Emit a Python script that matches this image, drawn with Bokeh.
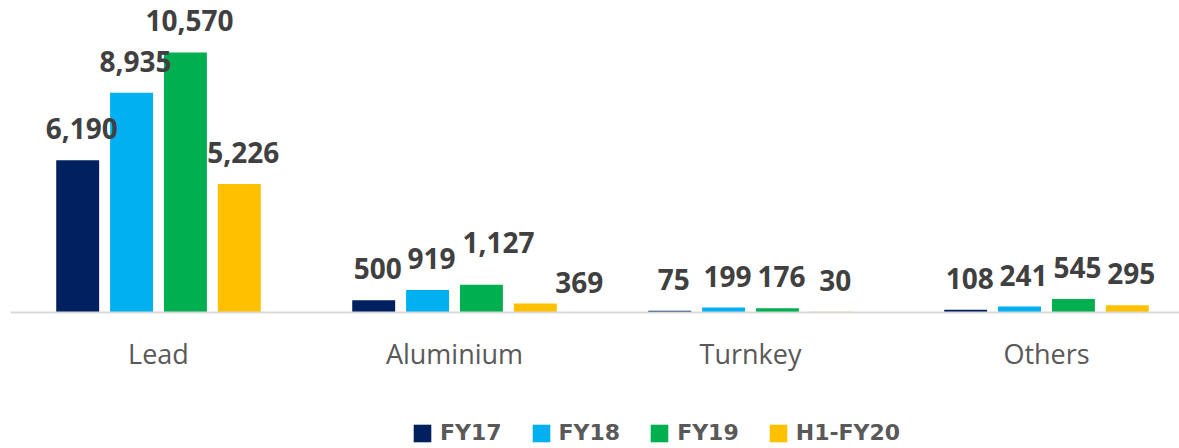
import numpy as np
from bokeh.plotting import figure
from bokeh.models import (ColumnDataSource, Range1d, FixedTicker, LabelSet,
                          Legend, LegendItem)
from bokeh.core.properties import value
from bokeh.embed import file_html
from bokeh.resources import INLINE

categories = ["Lead", "Aluminium", "Turnkey", "Others"]
series = ["FY17", "FY18", "FY19", "H1-FY20"]
fy17 = [6190, 500, 75, 108]
fy18 = [8935, 919, 199, 241]
fy19 = [10570, 1127, 176, 545]
h1fy20 = [5226, 369, 30, 295]
colors = ["#002060", "#00B0F0", "#00B050", "#FFC000"]

values = [fy17, fy18, fy19, h1fy20]

# manual label nudges (pixels) as placed in the original, keyed by (series, category)
label_nudge = {("FY19", "Aluminium"): (13, 11), ("H1-FY20", "Aluminium"): (40, -11)}

p = figure(width=1179, height=448, output_backend="svg", toolbar_location=None,
           x_range=Range1d(0, 1169 / 296), y_range=Range1d(-5528, 12683),
           min_border_left=10, min_border_right=0, min_border_top=0,
           min_border_bottom=0)
p.outline_line_color = None
p.xgrid.visible = False
p.ygrid.visible = False
p.yaxis.visible = False

pitch = 0.182
bar_w = 0.145
centers = np.arange(len(categories)) + 0.5
items = []
for i, (name, vals, col) in enumerate(zip(series, values, colors)):
    xs = centers + (i - 1.5) * pitch
    dx = [4 + label_nudge.get((name, c), (0, 0))[0] for c in categories]
    dy = [21 + label_nudge.get((name, c), (0, 0))[1] for c in categories]
    src = ColumnDataSource(dict(x=xs, top=vals, dx=dx, dy=dy,
                                lab=[f"{v:,}" for v in vals]))
    r = p.vbar(x="x", top="top", width=bar_w, bottom=0, source=src,
               fill_color=col, line_color=None)
    items.append(LegendItem(label=name, renderers=[r]))
    p.add_layout(LabelSet(x="x", y="top", text="lab", source=src,
                          x_offset="dx", y_offset="dy",
                          text_align="center", text_baseline="alphabetic",
                          text_font=value("Open Sans"),
                          text_font_style="bold",
                          text_font_size="28px", text_color="#404040"))

ax = p.xaxis[0]
ax.fixed_location = 0
ax.ticker = FixedTicker(ticks=list(centers))
ax.major_label_overrides = {float(c): cat for c, cat in zip(centers, categories)}
ax.major_tick_line_color = None
ax.minor_tick_line_color = None
ax.axis_line_color = "#D9D9D9"
ax.axis_line_width = 2
ax.major_label_text_font = "Open Sans"
ax.major_label_text_font_size = "27px"
ax.major_label_text_color = "#595959"
ax.major_label_standoff = 16

legend = Legend(items=items, orientation="horizontal", location=(401, 3),
                glyph_width=22, glyph_height=22, label_standoff=7, spacing=28,
                padding=0, margin=0, border_line_color=None,
                background_fill_alpha=0,
                label_text_font="DejaVu Sans", label_text_font_style="bold",
                label_text_font_size="22px", label_text_color="#595959")
p.add_layout(legend, "center")

open("out.html", "w").write(file_html(p, INLINE))
